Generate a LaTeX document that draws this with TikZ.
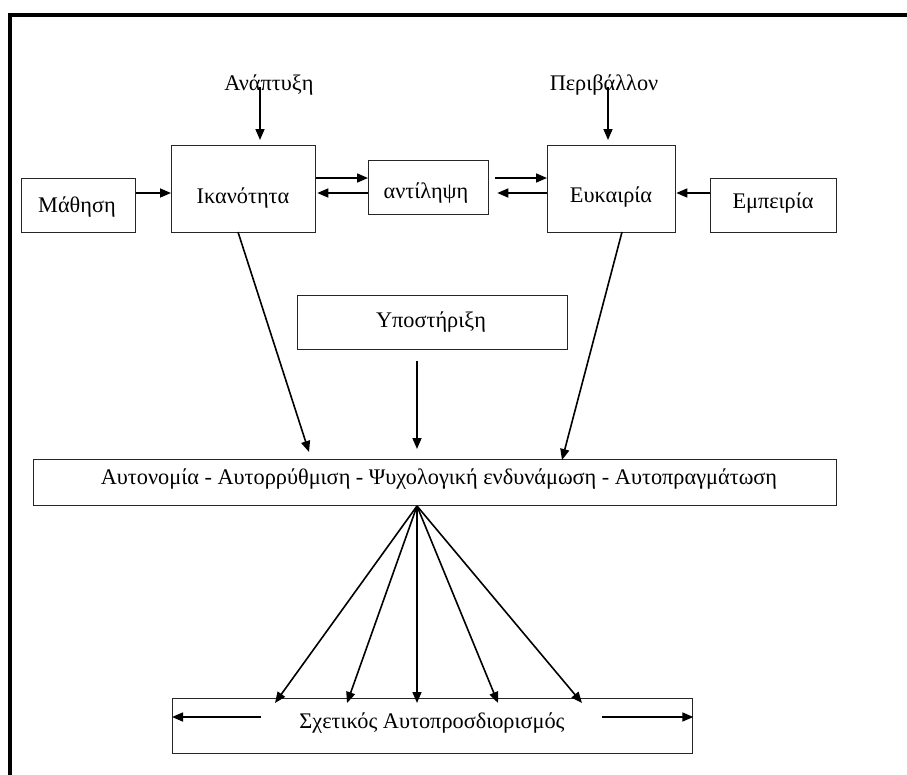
\documentclass[tikz,border=0pt]{standalone}
\usepackage{fontspec}
\setmainfont{Liberation Serif}
\usetikzlibrary{arrows.meta,calc}
\begin{document}
\begin{tikzpicture}[x=1pt,y=-1pt,
  box/.style={draw=black!85,line width=1.3pt,rectangle,inner sep=0pt,anchor=north west},
  txt/.style={anchor=base,inner sep=0pt,font=\fontsize{22.3}{25}\selectfont},
  arr/.style={line width=1.6pt,-{Triangle[length=11pt,width=9pt]}},
  frame/.style={line width=4pt}]
\useasboundingbox (0,0) rectangle (907,774);
% frame
\coordinate (fbl) at (9.5,776);
\coordinate (ftl) at (9.5,14.5);
\coordinate (ftr) at (909,14.5);
\draw[frame] (fbl) -- (ftl) -- (ftr);
% boxes
\node[box,minimum width=114pt,minimum height=54pt] (mathisi) at (21,178) {};
\node[box,minimum width=144pt,minimum height=87pt] (ikan) at (171,145) {};
\node[box,minimum width=120pt,minimum height=54pt] (antil) at (368,160) {};
\node[box,minimum width=128pt,minimum height=87pt] (efk) at (547,145) {};
\node[box,minimum width=126pt,minimum height=54pt] (empe) at (710,178) {};
\node[box,minimum width=270pt,minimum height=54pt] (ypo) at (297,295) {};
\node[box,minimum width=803pt,minimum height=46pt] (auto) at (33,459) {};
\node[box,minimum width=520pt,minimum height=55pt] (sxet) at (172,698) {};
% texts
\node[txt] (tmathisi) at (77,212) {Μάθηση};
\node[txt] (tikan) at (243,203) {Ικανότητα};
\node[txt] (tantil) at (426,198) {αντίληψη};
\node[txt] (tefk) at (611,202) {Ευκαιρία};
\node[txt] (tempe) at (773,208) {Εμπειρία};
\node[txt] (anapt) at (269,90) {Ανάπτυξη};
\node[txt] (periv) at (604,90) {Περιβάλλον};
\node[txt] (typo) at (431,327) {Υποστήριξη};
\node[txt] (tauto) at (439,484) {Αυτονομία - Αυτορρύθμιση - Ψυχολογική ενδυνάμωση - Αυτοπραγμάτωση};
\node[txt] (tsxet) at (432,728) {Σχετικός Αυτοπροσδιορισμός};
% coordinates for arrow ends
\coordinate (a1s) at (260,87);  \coordinate (a1e) at (260,140);
\coordinate (a2s) at (608,87);  \coordinate (a2e) at (608,140);
\coordinate (up) at (0,178);
\coordinate (lo) at (0,193);
\coordinate (d1s) at (238,232); \coordinate (d1e) at (309,452);
\coordinate (d2s) at (622,232); \coordinate (d2e) at (562,460);
\coordinate (ys) at (417,361);  \coordinate (ye) at (417,449);
\coordinate (fan) at (417,506);
\coordinate (f1) at (275,703);
\coordinate (f2) at (347,703);
\coordinate (f3) at (417,703);
\coordinate (f4) at (498,703);
\coordinate (f5) at (582,703);
\coordinate (bls) at (261,717);
\coordinate (brs) at (602,717);
% arrows
\draw[arr] (a1s) -- (a1e);
\draw[arr] (a2s) -- (a2e);
\draw[arr] (mathisi.east |- lo) -- (ikan.west |- lo);
\draw[arr] (ikan.east |- up) -- (antil.west |- up);
\draw[arr] (antil.west |- lo) -- ([xshift=1pt]ikan.east |- lo);
\draw[arr] ([xshift=6pt]antil.east |- up) -- (efk.west |- up);
\draw[arr] (efk.west |- lo) -- ([xshift=8pt]antil.east |- lo);
\draw[arr] (empe.west |- lo) -- (efk.east |- lo);
\draw[arr] (d1s) -- (d1e);
\draw[arr] (d2s) -- (d2e);
\draw[arr] (ys) -- (ye);
\foreach \t in {f1,f2,f3,f4,f5} \draw[arr] (fan) -- (\t);
\draw[arr] (bls) -- (sxet.west |- bls);
\draw[arr] (brs) -- (sxet.east |- brs);
\end{tikzpicture}
\end{document}
